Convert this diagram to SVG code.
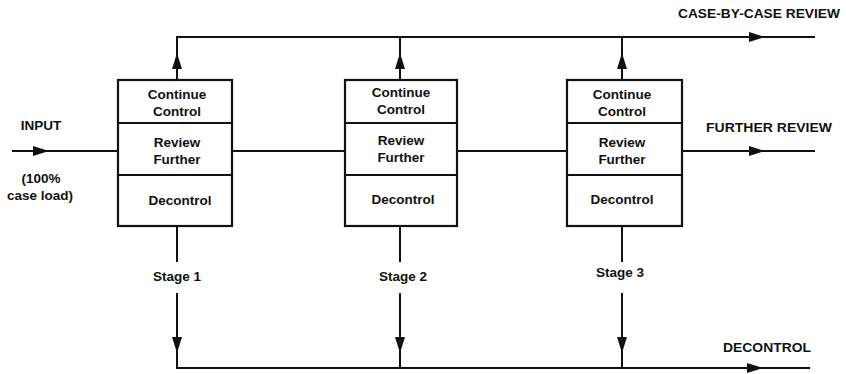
<svg xmlns="http://www.w3.org/2000/svg" xmlns:xlink="http://www.w3.org/1999/xlink" width="846" height="374" viewBox="0 0 846 374">
  <style>
    .bg { fill: #ffffff; }
    .box { fill: #ffffff; stroke: #111; stroke-width: 2.2; }
    .div { stroke: #111; stroke-width: 2; fill: none; }
    .ln { stroke: #111; stroke-width: 2; fill: none; }
    .ah { fill: #111; }
    text { font-family: "Liberation Sans", Arial, Helvetica, sans-serif; font-weight: bold; fill: #111; }
    .t { font-size: 13.5px; text-anchor: middle; }
    .lbl { font-size: 13px; }
  </style>
  <defs>
    <!-- arrowhead with its tip at the origin, pointing right -->
    <path id="ah" d="M0,0 L-16,-5 L-16,5 Z"/>
  </defs>
  <rect class="bg" x="0" y="0" width="846" height="374"/>

  <g id="connectors">
    <!-- input -->
    <line class="ln" x1="12" y1="151" x2="119" y2="151"/>
    <use href="#ah" class="ah" transform="translate(49,151)"/>
    <!-- case-by-case review bus -->
    <polyline class="ln" points="177,80 177,37 815,37"/>
    <line class="ln" x1="400" y1="80" x2="400" y2="37"/>
    <line class="ln" x1="622" y1="80" x2="622" y2="37"/>
    <use href="#ah" class="ah" transform="translate(177,53) rotate(-90)"/>
    <use href="#ah" class="ah" transform="translate(400,53) rotate(-90)"/>
    <use href="#ah" class="ah" transform="translate(622,53) rotate(-90)"/>
    <use href="#ah" class="ah" transform="translate(765,37)"/>
    <!-- further review chain -->
    <line class="ln" x1="232" y1="151" x2="345" y2="151"/>
    <line class="ln" x1="457" y1="151" x2="567" y2="151"/>
    <line class="ln" x1="682" y1="151" x2="815" y2="151"/>
    <use href="#ah" class="ah" transform="translate(765,151)"/>
    <!-- decontrol bus -->
    <line class="ln" x1="177" y1="226" x2="177" y2="262"/>
    <line class="ln" x1="400" y1="226" x2="400" y2="262"/>
    <line class="ln" x1="622" y1="226" x2="622" y2="262"/>
    <polyline class="ln" points="177,293 177,368 810,368"/>
    <line class="ln" x1="400" y1="293" x2="400" y2="368"/>
    <line class="ln" x1="622" y1="293" x2="622" y2="368"/>
    <use href="#ah" class="ah" transform="translate(177,353) rotate(90)"/>
    <use href="#ah" class="ah" transform="translate(400,353) rotate(90)"/>
    <use href="#ah" class="ah" transform="translate(622,353) rotate(90)"/>
    <use href="#ah" class="ah" transform="translate(763,368)"/>
  </g>

  <g id="stage1">
    <rect class="box" x="118" y="80" width="114" height="146"/>
    <line class="div" x1="118" y1="123" x2="232" y2="123"/>
    <line class="div" x1="118" y1="175" x2="232" y2="175"/>
    <text class="t" x="177" y="99">Continue</text>
    <text class="t" x="177" y="116">Control</text>
    <text class="t" x="177" y="147">Review</text>
    <text class="t" x="177" y="164">Further</text>
    <text class="t" x="180" y="205">Decontrol</text>
    <text class="t" x="177" y="281">Stage 1</text>
  </g>

  <g id="stage2">
    <rect class="box" x="345" y="80" width="112" height="146"/>
    <line class="div" x1="345" y1="123" x2="457" y2="123"/>
    <line class="div" x1="345" y1="175" x2="457" y2="175"/>
    <text class="t" x="401" y="97">Continue</text>
    <text class="t" x="401" y="114">Control</text>
    <text class="t" x="401" y="145">Review</text>
    <text class="t" x="401" y="162">Further</text>
    <text class="t" x="403" y="204">Decontrol</text>
    <text class="t" x="403" y="281">Stage 2</text>
  </g>

  <g id="stage3">
    <rect class="box" x="567" y="80" width="115" height="146"/>
    <line class="div" x1="567" y1="123" x2="682" y2="123"/>
    <line class="div" x1="567" y1="175" x2="682" y2="175"/>
    <text class="t" x="622" y="99">Continue</text>
    <text class="t" x="622" y="116">Control</text>
    <text class="t" x="622" y="147">Review</text>
    <text class="t" x="622" y="164">Further</text>
    <text class="t" x="622" y="204">Decontrol</text>
    <text class="t" x="620" y="277">Stage 3</text>
  </g>

  <g id="labels">
    <text class="t" x="41" y="130">INPUT</text>
    <text class="t" x="41" y="183">(100%</text>
    <text class="t" x="40" y="200">case load)</text>
    <text class="lbl" x="678" y="18" textLength="162" lengthAdjust="spacingAndGlyphs">CASE-BY-CASE REVIEW</text>
    <text class="lbl" x="706" y="132" textLength="126" lengthAdjust="spacingAndGlyphs">FURTHER REVIEW</text>
    <text class="lbl" x="723" y="352" textLength="88" lengthAdjust="spacingAndGlyphs">DECONTROL</text>
  </g>
</svg>
